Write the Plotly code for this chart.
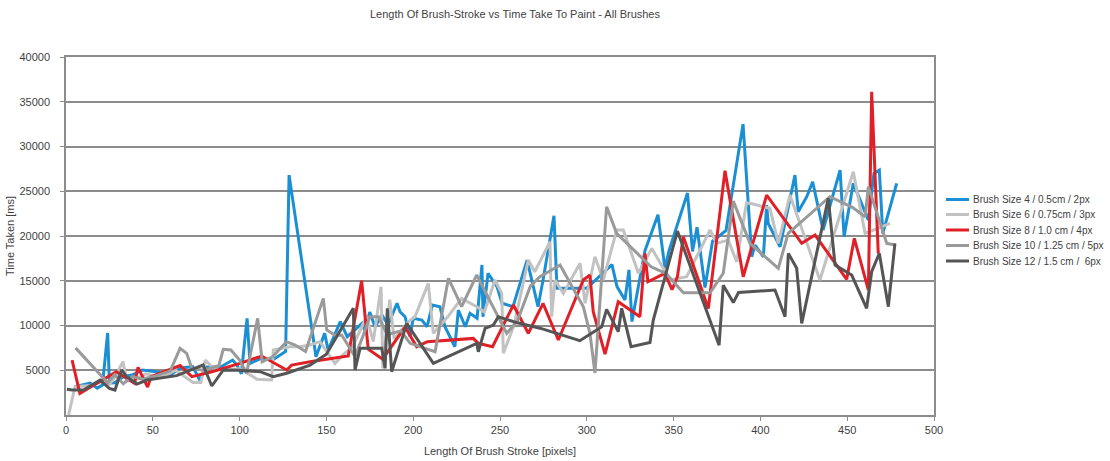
import plotly.graph_objects as go

# Brush Size 4 / 0.5cm / 2px
blue_x = [5, 14, 18, 21, 24, 25, 28, 33, 38, 44,
          52, 60, 66, 73, 77, 81, 89, 96, 98.5, 101,
          104.3, 106, 112, 119, 126.5, 128.5, 144, 149, 151, 158,
          162, 170.5, 172, 175, 178, 182, 185.5, 190.7, 192.4, 195.3,
          198.2, 200, 205, 208, 211, 215.4, 218.3, 224, 226, 230,
          232.7, 236.8, 239.6, 240.2, 243.1, 248.3, 251.2, 257.5, 265.6, 271.9,
          274.8, 281.1, 282.8, 300, 309.3, 314.5, 317.4, 322, 324.3, 326,
          333.5, 341, 345, 347.5, 358, 360.9, 363.5, 368.1, 372.4, 380.2,
          390, 395, 396.9, 401.7, 403.6, 404.5, 411.3, 419.9, 421.8, 426.7,
          430.1, 436.1, 445.9, 448.2, 453.5, 462.2, 465.4, 468.5, 470.5, 478.5]
blue_y = [3160, 3570, 3000, 3350, 9160, 3570, 3600, 4280, 4470, 5030,
          4840, 4470, 5250, 5400, 3910, 5360, 5360, 6140, 5580, 4600,
          10800, 5750, 6300, 6140, 7100, 26800, 6500, 9120, 7250, 10430,
          8750, 10240, 9500, 11500, 9830, 11170, 10050, 12490, 11540, 10980,
          8750, 10800, 10610, 9860, 12290, 12100, 9860, 7630, 11730, 9860,
          11360, 10800, 16760, 10980, 15830, 14330, 12480, 12100, 17310, 12100,
          15080, 22260, 14170, 14170, 15860, 16800, 14350, 12860, 16220, 10440,
          18360, 22380, 16400, 18460, 24800, 18270, 20980, 14250, 19400, 20610,
          32500, 17680, 18990, 17680, 23460, 21410, 18800, 26810, 22710, 24390,
          26060, 20670, 27370, 19920, 25880, 21780, 27000, 27370, 20300, 25880]

# Brush Size 6 / 0.75cm / 3px
light_x = [1.5, 5.2, 14, 20, 25, 28, 32.8, 35, 40, 46,
           52, 58, 63, 73.2, 77.7, 80.2, 85, 92, 100, 106,
           110, 118.4, 119.4, 129, 134.8, 140.6, 146.3, 154.9, 160, 165,
           173.1, 177, 181.5, 182.5, 186.5, 189, 197.2, 201, 208.7, 211.6,
           220, 227.9, 236.6, 241, 247.1, 251, 251.9, 258, 266.3, 270,
           278.8, 279.7, 281.7, 286.5, 296.1, 299, 304.7, 309.5, 317.2, 321,
           329.7, 337.4, 348, 357.5, 371, 374.8, 381.5, 386.3, 392, 394,
           405.5, 410.3, 417, 434.3, 453.5, 460.3, 474.7]
light_y = [0, 3160, 3300, 3700, 3400, 4200, 5960, 3800, 4000, 4600,
           4300, 4500, 5000, 3630, 3630, 6140, 5200, 5000, 5200, 4500,
           4000, 3910, 7260, 7630, 7630, 7820, 8190, 5770, 6800, 7600,
           10980, 8200, 14330, 5210, 12900, 8500, 10420, 10980, 14710, 9130,
           11000, 13030, 12100, 11500, 15080, 13590, 6890, 10000, 17310, 16000,
           19360, 10980, 15080, 13590, 16950, 12480, 17680, 15080, 20670, 20670,
           15830, 18620, 15080, 15450, 20670, 19180, 19550, 17120, 23700, 23650,
           23090, 19180, 24570, 15080, 27180, 20300, 21410]

# Brush Size 8 / 1.0 cm / 4px
red_x = [3.5, 8, 29, 39.5, 41.5, 47, 49, 65.7, 72.5, 84,
         100.2, 112.7, 127.1, 130, 140.6, 162.6, 170.3, 174.1, 182.4, 195.3,
         202, 208.2, 234.6, 237.5, 245.7, 257.7, 266.3, 274.8, 283.6, 298,
         301.8, 303.7, 310.5, 318.1, 330.6, 333.5, 335.2, 345, 349.1, 352.2,
         355.6, 370, 379.6, 390.1, 403.6, 423.8, 431.5, 449.7, 454.1, 462.2,
         464.1, 467.9]
red_y = [6140, 2420, 4840, 3540, 5330, 3120, 4280, 5530, 4280, 4840,
         5770, 6590, 5030, 5580, 5960, 6590, 15000, 7360, 6240, 9830,
         7630, 8190, 8560, 8010, 7630, 12290, 9130, 12480, 8380, 15080,
         15640, 11550, 6800, 12660, 10980, 18060, 14890, 15830, 14000, 15450,
         19920, 11900, 27300, 15450, 24570, 19180, 20110, 15160, 19740, 13960,
         36110, 18060]

# Brush Size 10 / 1.25 cm / 5px
mid_x = [5.5, 21.5, 24, 28, 33, 38, 44, 52, 60, 65.7,
         69.5, 72.5, 79, 88, 90.6, 95, 100, 104, 110.4, 113,
         119, 127, 132, 138, 148.2, 150.2, 155, 158.8, 166.5, 171.3,
         175, 180, 185, 193, 198.2, 212.6, 220.3, 227.9, 236.6, 243,
         253.9, 260, 267.5, 273, 284.6, 298, 301.8, 304.7, 311.4, 317.2,
         325, 337, 345.5, 355.6, 371, 378.6, 384.4, 394, 410.3, 416,
         440, 453, 460.3, 462.2, 472.8, 477.5]
mid_y = [7500, 4100, 3600, 4500, 3500, 4300, 4000, 4400, 4900, 7450,
         6890, 5210, 5000, 5500, 7340, 7260, 6140, 4660, 10800, 5960,
         6500, 8190, 7820, 7100, 13030, 9500, 8900, 8940, 6520, 8940,
         10980, 10980, 9000, 9400, 8010, 7070, 15270, 12100, 15640, 13200,
         9130, 10500, 14400, 15450, 16760, 12100, 9130, 4700, 23270, 20300,
         18800, 16560, 15830, 13660, 13660, 15830, 23900, 19180, 16390, 20300,
         24390, 23200, 22150, 25500, 19180, 19000]

# Brush Size 12 / 1.5 cm / 6px
dark_x = [0.5, 3.5, 10, 19.6, 25, 28.2, 32, 35, 40.8, 46.7,
          63.7, 79, 84, 90.6, 100, 111.8, 119.4, 127.1, 140.6, 150,
          165.5, 166.5, 169.4, 181.9, 183.8, 185.1, 187.6, 196.3, 211.6, 236.6,
          237.5, 241.4, 246.2, 249, 260, 273, 296, 308.6, 311.4, 318.1,
          320.1, 325.5, 336.4, 338.3, 352.2, 376.2, 378.6, 384.4, 387.4, 408.4,
          414.2, 416.1, 420.9, 423.8, 439.1, 443, 452.6, 461.2, 464.1, 468.5,
          473.7, 477.5]
dark_y = [2870, 2790, 2790, 3910, 2980, 2790, 5030, 4280, 3460, 3910,
          4400, 5580, 3240, 5030, 5000, 4840, 4280, 4660, 5580, 6800,
          11920, 5030, 7450, 7450, 5210, 11920, 4840, 10240, 5770, 8010,
          7070, 9680, 10050, 10980, 10300, 9700, 8300, 9860, 11800, 9310,
          11920, 7630, 8100, 10610, 20550, 7800, 14500, 12570, 13680, 13960,
          10980, 18060, 16390, 10240, 24200, 16760, 15640, 11920, 16010, 18060,
          12100, 19180]

series_names = [
    "Brush Size 4 / 0.5cm / 2px",
    "Brush Size 6 / 0.75cm / 3px",
    "Brush Size 8 / 1.0 cm / 4px",
    "Brush Size 10 / 1.25 cm / 5px",
    "Brush Size 12 / 1.5 cm / \u00a06px",
]
series_colors = ["#1a8fd4", "#c2c2c2", "#e01f26", "#9a9a9a", "#555555"]
series_data = [(blue_x, blue_y), (light_x, light_y), (red_x, red_y),
               (mid_x, mid_y), (dark_x, dark_y)]

x_ticks = list(range(0, 501, 50))
y_ticks = list(range(5000, 40001, 5000))

FONT = "Liberation Sans, Arial, sans-serif"
TEXT = "#3f3f3f"
AXIS = "#8c8c8c"

# plot-area geometry in pixels
W, H = 1110, 461
L, R, T, B = 66, 176, 57, 46
PW, PH = W - L - R, H - T - B


def px_to_paper(px, py):
    return (px - L) / PW, (H - B - py) / PH


fig = go.Figure()
for name, (xs, ys), color in zip(series_names, series_data, series_colors):
    fig.add_trace(go.Scatter(
        x=xs, y=ys, mode="lines", name=name,
        line=dict(color=color, width=3),
        showlegend=False,
    ))

# legend drawn as line samples with labels to the right of the plot
legend_rows = [199.5, 214.5, 230, 245.5, 261]
for name, color, row in zip(series_names, series_colors, legend_rows):
    x0, y0 = px_to_paper(946, row)
    x1, _ = px_to_paper(969, row)
    fig.add_shape(type="line", xref="paper", yref="paper",
                  x0=x0, x1=x1, y0=y0, y1=y0,
                  line=dict(color=color, width=3))
    tx, _ = px_to_paper(971, row)
    fig.add_annotation(xref="paper", yref="paper", x=tx, y=y0,
                       xanchor="left", yanchor="middle", showarrow=False,
                       text=name, font=dict(family=FONT, size=10, color=TEXT))

fig.update_layout(
    width=W, height=H,
    margin=dict(l=L, r=R, t=T, b=B),
    paper_bgcolor="white", plot_bgcolor="white",
    font=dict(family=FONT, size=11, color=TEXT),
    title=dict(
        text="Length Of Brush-Stroke vs Time Take To Paint - All Brushes",
        x=515 / W, xref="container", xanchor="center",
        y=1 - 14 / H, yref="container", yanchor="middle",
        font=dict(family=FONT, size=11, color=TEXT),
    ),
    showlegend=False,
)

fig.update_xaxes(
    range=[0, 500], tickvals=x_ticks, ticktext=[str(v) for v in x_ticks],
    showgrid=False, zeroline=False,
    showline=True, linecolor=AXIS, linewidth=1.5, mirror=True,
    ticks="outside", ticklen=4, tickcolor=AXIS,
    title=dict(text="Length Of Brush Stroke [pixels]", standoff=12,
               font=dict(family=FONT, size=11, color=TEXT)),
    automargin=False,
)
fig.update_yaxes(
    range=[0, 40000], tickvals=y_ticks, ticktext=[str(v) for v in y_ticks],
    showgrid=True, gridcolor=AXIS, gridwidth=1.5, zeroline=False,
    showline=True, linecolor=AXIS, linewidth=1.5, mirror=True,
    ticks="outside", ticklen=4, tickcolor=AXIS,
    ticklabelstandoff=8,
    title=dict(text="Time Taken [ms]", standoff=3,
               font=dict(family=FONT, size=11, color=TEXT)),
    automargin=False,
)

fig.write_html("out.html")
